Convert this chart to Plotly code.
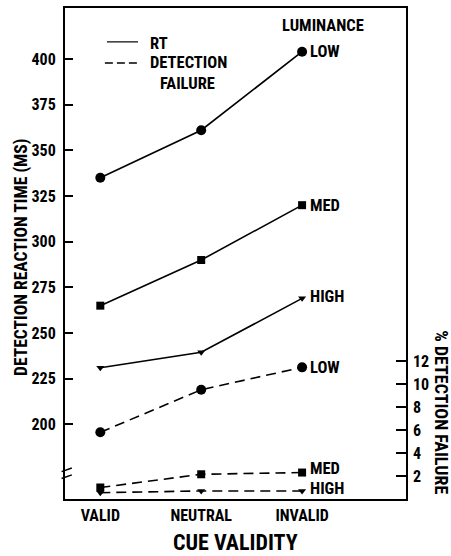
import plotly.graph_objects as go

categories = ["VALID", "NEUTRAL", "INVALID"]
luminance = ["LOW", "MED", "HIGH"]
rt_low = [335, 361, 404]
rt_med = [265, 290, 320]
rt_high = [231, 239.5, 269]
df_low = [5.8, 9.5, 11.45]
df_med = [1.0, 2.15, 2.3]
df_high = [0.55, 0.7, 0.7]
rt_ticks = [200, 225, 250, 275, 300, 325, 350, 375, 400]
df_ticks = [2, 4, 6, 8, 10, 12]

FONT = "Roboto Condensed, Open Sans Condensed, DejaVu Sans Condensed, sans-serif"
xs = [0, 1, 2]
symbols = {"LOW": "circle", "MED": "square", "HIGH": "triangle-down"}
sizes = {"LOW": 10, "MED": 8, "HIGH": 7}

fig = go.Figure()
for name, vals in zip(luminance, [rt_low, rt_med, rt_high]):
    fig.add_trace(go.Scatter(x=xs, y=vals, mode="lines+markers", yaxis="y",
                             line=dict(color="black", width=1.6),
                             marker=dict(symbol=symbols[name], size=sizes[name], color="black"),
                             showlegend=False, hoverinfo="skip"))
for name, vals in zip(luminance, [df_low, df_med, df_high]):
    fig.add_trace(go.Scatter(x=xs, y=vals, mode="lines+markers", yaxis="y2",
                             line=dict(color="black", width=1.6, dash="10px,6px"),
                             marker=dict(symbol=symbols[name], size=sizes[name], color="black"),
                             showlegend=False, hoverinfo="skip"))

lab_font = dict(family=FONT, size=16.5, color="black")
ann = []
rt_shift = {"LOW": 0, "MED": 0, "HIGH": 2}
df_shift = {"LOW": 0, "MED": 4, "HIGH": 2}
for name, vals in zip(luminance, [rt_low, rt_med, rt_high]):
    ann.append(dict(x=2, y=vals[2], xref="x", yref="y", text="<b>%s</b>" % name,
                    showarrow=False, xanchor="left", xshift=6, yshift=rt_shift[name], font=lab_font))
for name, vals in zip(luminance, [df_low, df_med, df_high]):
    ann.append(dict(x=2, y=vals[2], xref="x", yref="y2", text="<b>%s</b>" % name,
                    showarrow=False, xanchor="left", xshift=6, yshift=df_shift[name], font=lab_font))
ann += [
    dict(x=0.757, y=0.965, xref="paper", yref="paper", text="<b>LUMINANCE</b>", showarrow=False,
         xanchor="center", yanchor="middle", font=lab_font),
    dict(x=0.243, y=0.927, xref="paper", yref="paper", text="<b>RT</b>", showarrow=False,
         xanchor="left", yanchor="middle", font=lab_font),
    dict(x=0.243, y=0.888, xref="paper", yref="paper", text="<b>DETECTION</b>", showarrow=False,
         xanchor="left", yanchor="middle", font=lab_font),
    dict(x=0.272, y=0.847, xref="paper", yref="paper", text="<b>FAILURE</b>", showarrow=False,
         xanchor="left", yanchor="middle", font=lab_font),
    dict(x=1.105, y=0.177, xref="paper", yref="paper", text="<b>% DETECTION FAILURE</b>", showarrow=False,
         textangle=90, xanchor="center", yanchor="middle", font=dict(family=FONT, size=18, color="black")),
    dict(x=-0.126, y=0.491, xref="paper", yref="paper", text="<b>DETECTION REACTION TIME (MS)</b>",
         showarrow=False, textangle=-90, xanchor="center", yanchor="middle",
         font=dict(family=FONT, size=17.5, color="black")),
    dict(x=0.5, y=-0.0896, xref="paper", yref="paper", text="<b>CUE VALIDITY</b>",
         showarrow=False, xanchor="center", yanchor="middle",
         font=dict(family=FONT, size=22, color="black")),
]

shapes = [
    dict(type="line", xref="paper", yref="paper", x0=0.123, x1=0.214, y0=0.931, y1=0.931,
         line=dict(color="black", width=1.2)),
    dict(type="line", xref="paper", yref="paper", x0=0.117, x1=0.220, y0=0.888, y1=0.888,
         line=dict(color="black", width=1.5, dash="8px,4px")),
    # axis break marks
    dict(type="line", xref="paper", yref="y", x0=-0.01, x1=0.02, y0=174.2, y1=176.2,
         line=dict(color="black", width=1.5)),
    dict(type="line", xref="paper", yref="y", x0=-0.01, x1=0.02, y0=170.4, y1=172.4,
         line=dict(color="black", width=1.5)),
]

tick_font = dict(family=FONT, size=16, color="black")
fig.update_layout(
    width=451, height=556,
    margin=dict(l=65, r=45, t=8, b=57, autoexpand=False),
    plot_bgcolor="white", paper_bgcolor="white",
    font=dict(family=FONT, color="black"),
    xaxis=dict(range=[-0.35, 3.03], tickvals=xs, ticktext=["<b>%s</b>" % c for c in categories],
               tickfont=tick_font, ticks="", showgrid=False, zeroline=False,
               showline=True, mirror=True, linecolor="black", linewidth=2,
               ticklabelstandoff=1, automargin=False),
    yaxis=dict(range=[159.2, 427.9], tickvals=rt_ticks, ticktext=["<b>%d</b>" % t for t in rt_ticks],
               tickfont=tick_font, ticks="inside", ticklen=8, tickwidth=2, tickcolor="black",
               showgrid=False, zeroline=False, showline=True, mirror=True,
               linecolor="black", linewidth=2, ticklabelstandoff=4, automargin=False),
    yaxis2=dict(range=[0, 42.7], overlaying="y", side="right", tickvals=df_ticks,
                ticktext=["<b>%d</b>" % t for t in df_ticks], tickfont=tick_font,
                ticks="inside", ticklen=10, tickwidth=2, tickcolor="black",
                showgrid=False, zeroline=False, showline=False, ticklabelstandoff=6,
                automargin=False),
    annotations=ann, shapes=shapes, showlegend=False,
)
fig.write_html("out.html", config={"displayModeBar": False},
               post_script="document.body.style.margin='0';")
